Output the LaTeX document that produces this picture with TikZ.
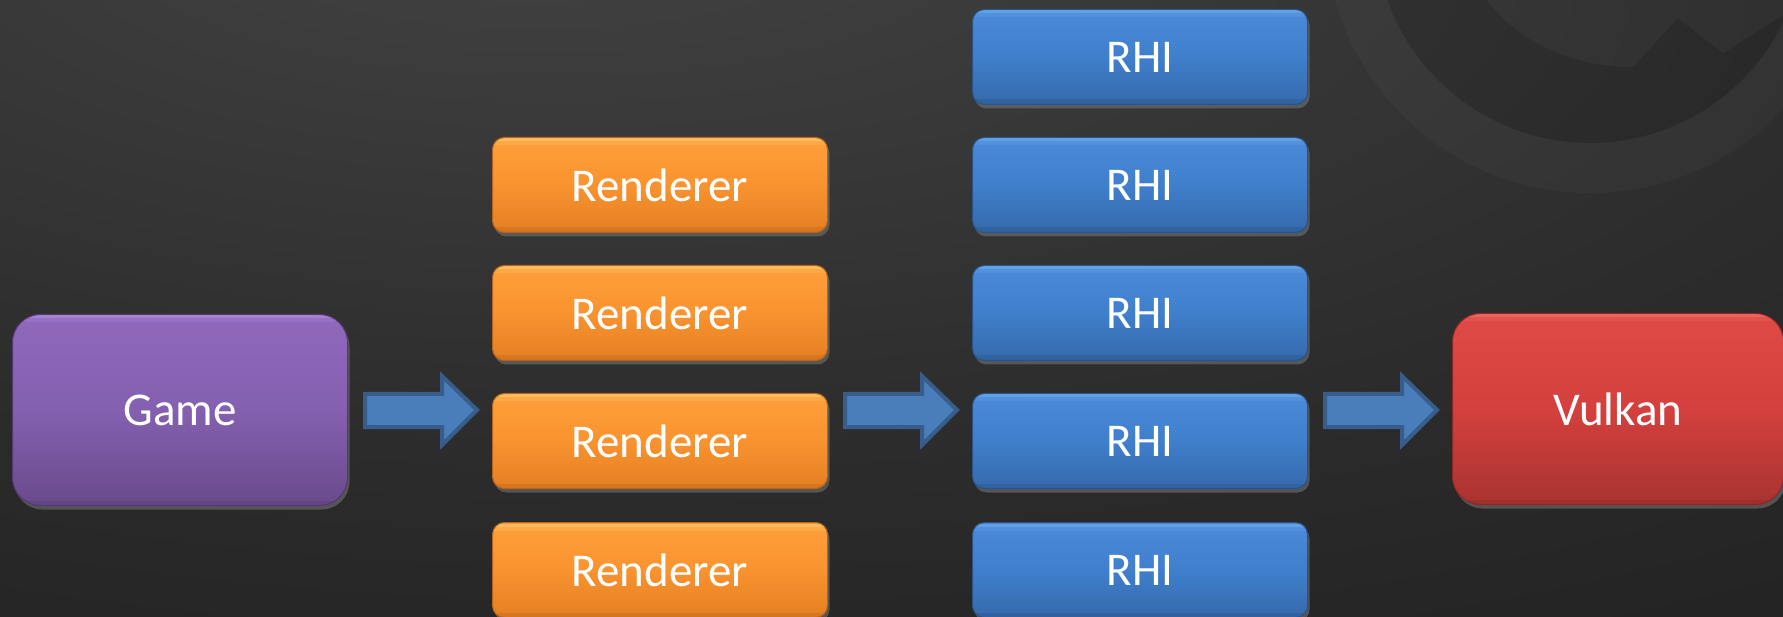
\documentclass[tikz,border=0pt]{standalone}
\usepackage{fontspec}
\setmainfont{Carlito}
\usetikzlibrary{calc,shadows}
\definecolor{bg0}{HTML}{444444}
\definecolor{bg1}{HTML}{3A3A3A}
\definecolor{bg2}{HTML}{2C2C2C}
\definecolor{bg3}{HTML}{222222}
\definecolor{bg4}{HTML}{1B1B1B}
\pgfdeclareradialshading{bgshade}{\pgfpoint{-11bp}{36bp}}{color(0bp)=(bg0); color(15bp)=(bg1); color(35bp)=(bg2); color(55bp)=(bg3); color(100bp)=(bg4)}
\definecolor{orTop}{HTML}{FFA03A}
\definecolor{orMid}{HTML}{F99330}
\definecolor{orBot}{HTML}{E47F22}
\definecolor{orHi}{HTML}{FFD27A}
\definecolor{orDk}{HTML}{B9651C}
\definecolor{orBd}{HTML}{B8651C}
\definecolor{blTop}{HTML}{4A8AD8}
\definecolor{blMid}{HTML}{3F7FCC}
\definecolor{blBot}{HTML}{3669AC}
\definecolor{blHi}{HTML}{78B4F4}
\definecolor{blDk}{HTML}{2A5488}
\definecolor{blBd}{HTML}{2A5488}
\definecolor{puTop}{HTML}{9068BD}
\definecolor{puMid}{HTML}{8460B0}
\definecolor{puBot}{HTML}{6A4A8C}
\definecolor{puHi}{HTML}{BA98E8}
\definecolor{puDk}{HTML}{553A72}
\definecolor{puBd}{HTML}{553A72}
\definecolor{rdTop}{HTML}{E04A46}
\definecolor{rdMid}{HTML}{D4403D}
\definecolor{rdBot}{HTML}{A83330}
\definecolor{rdHi}{HTML}{F67A72}
\definecolor{rdDk}{HTML}{8A2826}
\definecolor{rdBd}{HTML}{8A2826}
\definecolor{arFill}{HTML}{4A7EBB}
\definecolor{arBd}{HTML}{385D8A}
\tikzset{
  x=1pt, y=-1pt,
  basebox/.style={anchor=north west, text=white, inner sep=0pt,
    font=\fontsize{47}{50}\selectfont, line width=1pt,
    drop shadow={opacity=0.5, shadow xshift=2pt, shadow yshift=-4pt}},
  bevel/.style n args={2}{path picture={
      \fill[#1, opacity=0.55, sharp corners]
        ([yshift=-1pt]path picture bounding box.north west) rectangle
        ([yshift=-4pt]path picture bounding box.north east);
      \fill[#1, opacity=0.2, sharp corners]
        ([yshift=-4pt]path picture bounding box.north west) rectangle
        ([yshift=-8pt]path picture bounding box.north east);
      \fill[#2, opacity=0.35, sharp corners]
        ([yshift=5pt]path picture bounding box.south west) rectangle
        ([yshift=0pt]path picture bounding box.south east);}},
  smallbox/.style={basebox, rounded corners=12pt, minimum width=335pt, minimum height=95pt},
  orangebox/.style={smallbox, draw=orBd, top color=orTop, bottom color=orBot, middle color=orMid,
    bevel={orHi}{orDk}},
  bluebox/.style={smallbox, draw=blBd, top color=blTop, bottom color=blBot, middle color=blMid,
    bevel={blHi}{blDk}},
  bigbox/.style={basebox, rounded corners=28pt, minimum height=191pt},
  purplebox/.style={bigbox, minimum width=335pt, draw=puBd, top color=puTop, bottom color=puBot, middle color=puMid,
    bevel={puHi}{puDk}},
  redbox/.style={bigbox, minimum width=331pt, draw=rdBd, top color=rdTop, bottom color=rdBot, middle color=rdMid,
    bevel={rdHi}{rdDk}},
  barrow/.style={fill=arFill, draw=arBd, line width=4pt, line join=miter},
}
\newcommand\blockarrow[2]{%
  \draw[barrow] let \p1=(#1.east), \p2=(#2.west) in
    (\x1+17pt,-394pt) -- (\x2-50pt,-394pt) -- (\x2-50pt,-376pt) --
    (\x2-15pt,-410pt) -- (\x2-50pt,-445pt) -- (\x2-50pt,-427pt) --
    (\x1+17pt,-427pt) -- cycle;}
\begin{document}
\begin{tikzpicture}
  \useasboundingbox (0,0) rectangle (1783,617);
  \shade[shading=bgshade] (0,0) rectangle (1783,617);
  % faint logo, top right
  \begin{scope}
    \clip (0,0) rectangle (1783,617);
    \fill[black, opacity=0.09] (1590,-72) circle[radius=215pt];
    \fill[white, opacity=0.028, even odd rule] (1590,-72) circle[radius=265pt] (1590,-72) circle[radius=215pt];
    \fill[white, opacity=0.035] (1487,0) .. controls (1520,45) and (1580,68) .. (1633,67)
      -- (1678,18) -- (1723,53) -- (1783,15) -- (1783,0) -- cycle;
  \end{scope}
  % boxes
  \node[purplebox] (game) at (12,314) {Game};
  \node[orangebox] (r1) at (492,137) {Renderer};
  \node[orangebox] (r2) at (492,265) {Renderer};
  \node[orangebox] (r3) at (492,393) {Renderer};
  \node[orangebox] (r4) at (492,522) {Renderer};
  \node[bluebox] (h1) at (972,9) {RHI};
  \node[bluebox] (h2) at (972,137) {RHI};
  \node[bluebox] (h3) at (972,265) {RHI};
  \node[bluebox] (h4) at (972,393) {RHI};
  \node[bluebox] (h5) at (972,522) {RHI};
  \node[redbox] (vulkan) at (1452,313) {Vulkan};
  % block arrows
  \blockarrow{game}{r3}
  \blockarrow{r3}{h4}
  \blockarrow{h4}{vulkan}
\end{tikzpicture}
\end{document}
